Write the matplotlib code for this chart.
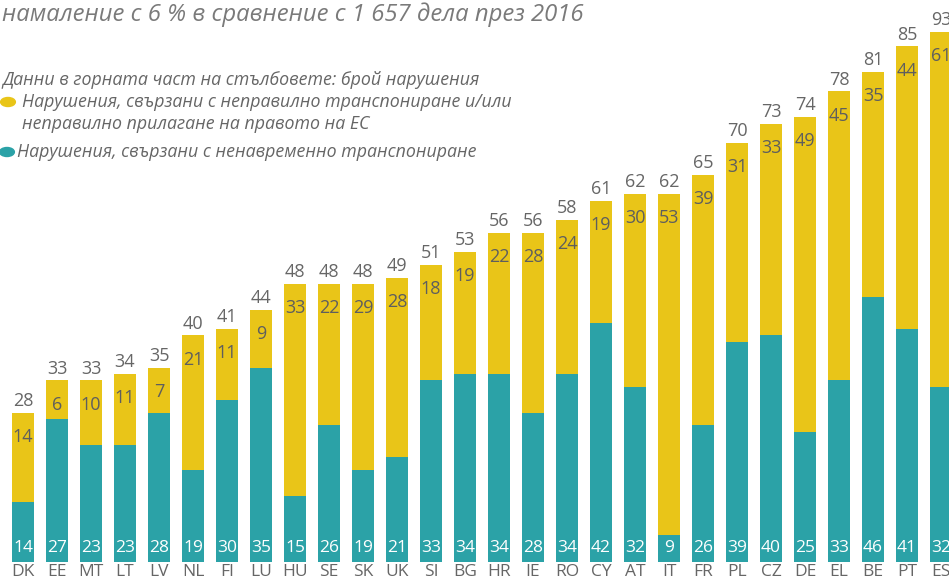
import matplotlib
matplotlib.use("Agg")
import matplotlib.pyplot as plt
import numpy as np

plt.rcParams["font.family"] = ["Open Sans", "DejaVu Sans"]

COUNTRIES = ["DK", "EE", "MT", "LT", "LV", "NL", "FI", "LU", "HU", "SE", "SK",
             "UK", "SI", "BG", "HR", "IE", "RO", "CY", "AT", "IT", "FR", "PL",
             "CZ", "DE", "EL", "BE", "PT", "ES"]
# late transposition (teal, bottom)
LATE = [14, 27, 23, 23, 28, 19, 30, 35, 15, 26, 19, 21, 33, 34, 34, 28, 34,
        42, 32, 9, 26, 39, 40, 25, 33, 46, 41, 32]
# incorrect transposition / application (yellow, top)
INCORRECT = [14, 6, 10, 11, 7, 21, 11, 9, 33, 22, 29, 28, 18, 19, 22, 28, 24,
             19, 30, 53, 39, 31, 33, 49, 45, 35, 44, 61]
TOTALS = [28, 33, 33, 34, 35, 40, 41, 44, 48, 48, 48, 49, 51, 53, 56, 56, 58,
          61, 62, 62, 65, 70, 73, 74, 78, 81, 85, 93]

HEADER = "намаление с 6 % в сравнение с 1 657 дела през 2016"
NOTE = "Данни в горната част на стълбовете: брой нарушения"
LEG_YELLOW = ("Нарушения, свързани с неправилно транспониране и/или\n"
              "неправилно прилагане на правото на ЕС")
LEG_TEAL = "Нарушения, свързани с ненавременно транспониране"

YELLOW = "#e9c518"
TEAL = "#2ba2a7"
GREY = "#666666"

W, H = 949, 579
fig = plt.figure(figsize=(W / 100, H / 100), dpi=100)
ax = fig.add_axes([0, (H - 561.7) / H, 1, (561.7 - 31.7) / H])

x = np.arange(len(COUNTRIES))
late = np.array(LATE)
inc = np.array(INCORRECT)
width = 22 / 34
ax.bar(x, late, width, color=TEAL, linewidth=0)
ax.bar(x, inc, width, bottom=late, color=YELLOW, linewidth=0)

# the source chart's value axis starts a little above zero and clips the tallest bar
ax.set_xlim(-23 / 34, (W - 23) / 34)
ax.set_ylim(4.77, 87.3)
for s in ax.spines.values():
    s.set_visible(False)
ax.set_yticks([])
ax.set_xticks(x)
ax.set_xticklabels(COUNTRIES, fontsize=12.5, color=GREY)
ax.tick_params(axis="x", length=0, pad=2)

for i in x:
    top = min(late[i] + inc[i], 87.3)
    ax.annotate(str(TOTALS[i]), (i, top), xytext=(0, 2), textcoords="offset points",
                ha="center", va="bottom", fontsize=13, color=GREY,
                annotation_clip=False)
    ax.annotate(str(INCORRECT[i]), (i, top), xytext=(0, -17.5),
                textcoords="offset points", ha="center", va="center",
                fontsize=13, color="#5e5e5e", annotation_clip=False)
    ax.annotate(str(LATE[i]), (i, 4.77), xytext=(0, 10),
                textcoords="offset points", ha="center", va="center",
                fontsize=12.5, color="white", annotation_clip=False)

fig.text(2 / W, 1 - 15 / H, HEADER, fontsize=17.2, style="italic", color="#7a7a7a",
         ha="left", va="center")
fig.text(2 / W, 1 - 80 / H, NOTE, fontsize=12.8, style="italic", color=GREY,
         ha="left", va="center")
fig.text(22 / W, 1 - 113 / H, LEG_YELLOW, fontsize=12.8, style="italic", color=GREY,
         ha="left", va="center", linespacing=1.3)
fig.text(17 / W, 1 - 152 / H, LEG_TEAL, fontsize=12.8, style="italic", color=GREY,
         ha="left", va="center")
fig.patches.append(matplotlib.patches.Circle((8 / W, 1 - 102 / H), 4.5 / H,
                   transform=fig.transFigure, color=YELLOW))
fig.patches.append(matplotlib.patches.Circle((7 / W, 1 - 152 / H), 4.5 / H,
                   transform=fig.transFigure, color=TEAL))

fig.savefig("out.png", dpi=100)
